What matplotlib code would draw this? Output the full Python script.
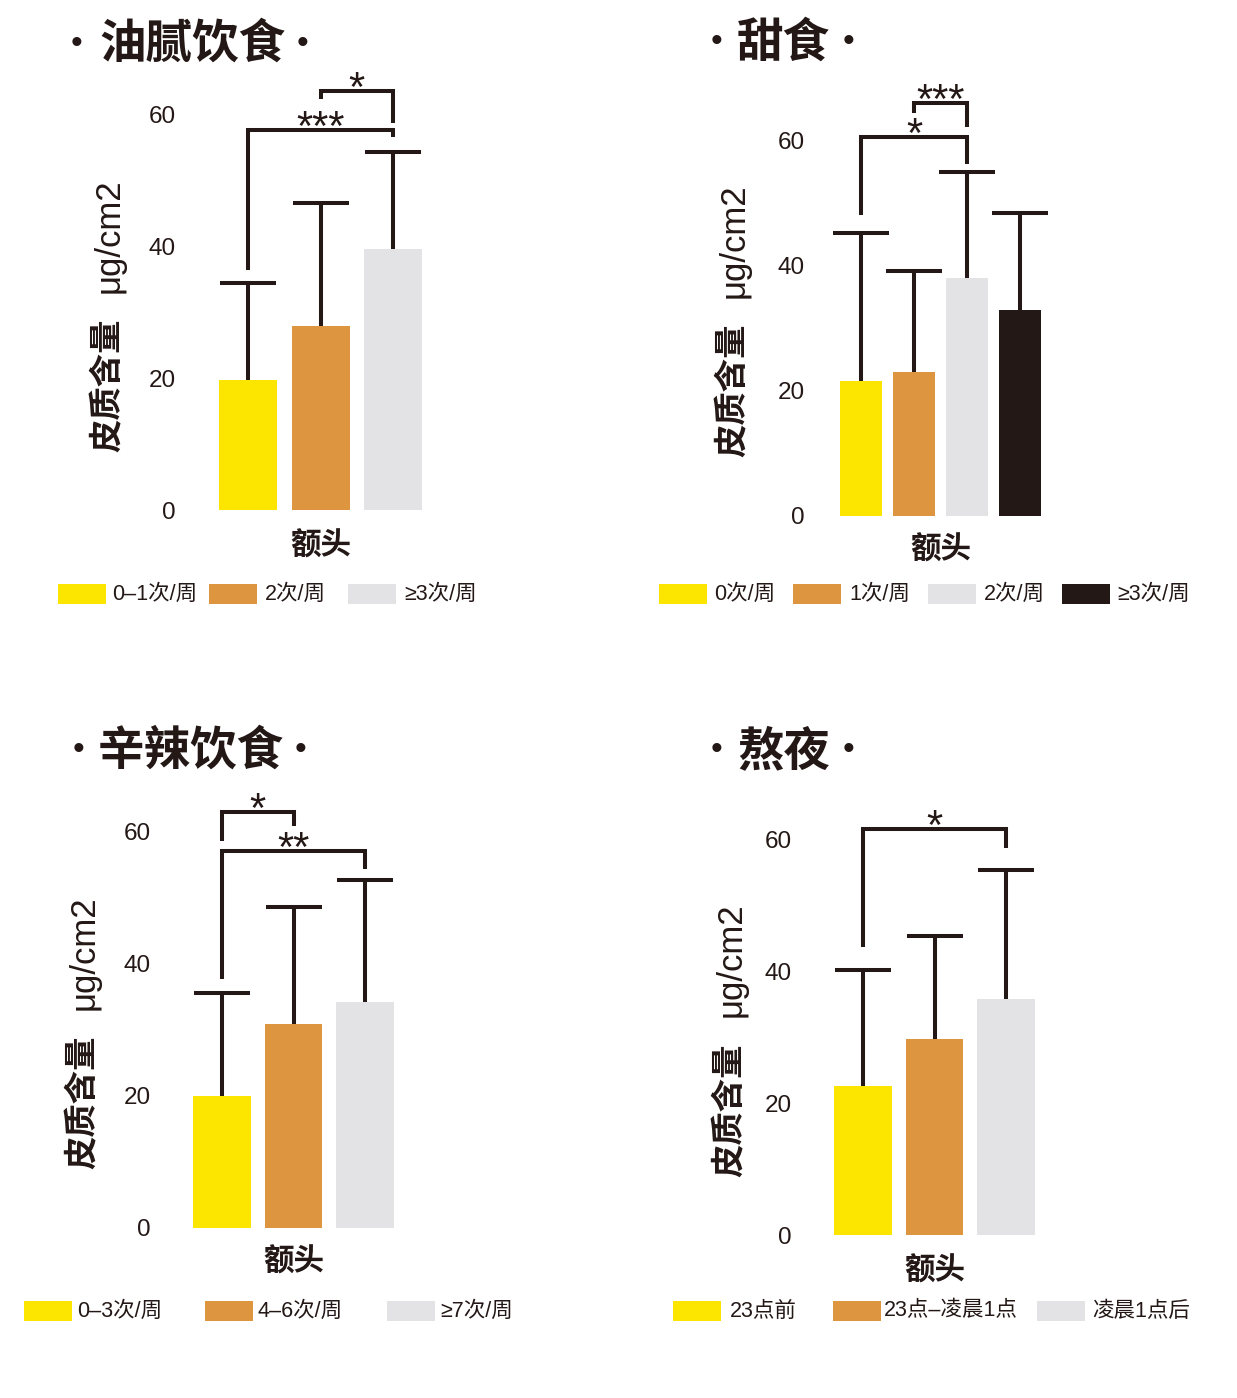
import matplotlib
matplotlib.use("Agg")
import numpy as np
import matplotlib.pyplot as plt
from matplotlib.patches import Rectangle
from matplotlib.transforms import Affine2D

plt.rcParams['font.family'] = ['Liberation Sans', 'Noto Sans CJK SC']

# ---------------- data ----------------
titles = ["油腻饮食", "甜食", "辛辣饮食", "熬夜"]
xlabel_text = "额头"
ylabel_cn = "皮质含量"
ylabel_unit = "μg/cm2"
y_ticks = [0, 20, 40, 60]

oily_labels = ["0–1次/周", "2次/周", "≥3次/周"]
oily_means = [19.7, 27.9, 39.5]
oily_sd = [14.7, 18.6, 14.7]
# (group a, group b, bracket height, left leg end, right leg end, mark)
oily_sig = [(0, 2, 57.6, 36.4, 56.5, "***"), (1, 2, 63.5, 62.3, 58.6, "*")]

sweet_labels = ["0次/周", "1次/周", "2次/周", "≥3次/周"]
sweet_means = [21.6, 23.0, 38.0, 32.9]
sweet_sd = [23.6, 16.1, 17.0, 15.5]
sweet_sig = [(0, 2, 60.5, 48.1, 56.2, "*"), (1, 2, 66.0, 64.4, 62.1, "***")]

spicy_labels = ["0–3次/周", "4–6次/周", "≥7次/周"]
spicy_means = [20.0, 30.8, 34.1]
spicy_sd = [15.5, 17.7, 18.5]
spicy_sig = [(0, 1, 62.9, 58.5, 60.8, "*"), (0, 2, 57.0, 37.6, 54.2, "**")]

night_labels = ["23点前", "23点–凌晨1点", "凌晨1点后"]
night_means = [22.6, 29.8, 35.9]
night_sd = [17.7, 15.6, 19.6]
night_sig = [(0, 2, 61.6, 43.8, 58.8, "*")]

colors = ["#FCE600", "#DD9540", "#E3E3E5", "#231816"]
ink = "#231815"

# ---------------- layout ----------------
W, H = 1237, 1398
fig = plt.figure(figsize=(W / 100, H / 100), dpi=100)
fig.patch.set_facecolor("white")
px = Affine2D().scale(1 / W, -1 / H).translate(0, 1) + fig.transFigure

panels = [
    dict(labels=oily_labels, means=oily_means, sd=oily_sd, sig=oily_sig, title=titles[0],
         c0=248, step=72.5, y0=510, y60=114,
         leg_x=[58, 209, 348], leg_dx=[54, 56, 56], leg_y=594,
         title_pos=(77, 99, 302, 44), ylab_x=108, ylab_cn_y=385, ylab_unit_y=236, xlab_y=546),
    dict(labels=sweet_labels, means=sweet_means, sd=sweet_sd, sig=sweet_sig, title=titles[1],
         c0=861, step=53, y0=516, y60=140.6,
         leg_x=[659, 793, 928, 1062], leg_dx=[55, 56, 56, 55], leg_y=594,
         title_pos=(717, 737, 849, 43), ylab_x=733, ylab_cn_y=390, ylab_unit_y=241, xlab_y=550),
    dict(labels=spicy_labels, means=spicy_means, sd=spicy_sd, sig=spicy_sig, title=titles[2],
         c0=222, step=71.5, y0=1228, y60=831,
         leg_x=[24, 205, 387], leg_dx=[53, 53, 53], leg_y=1311,
         title_pos=(78, 98, 301, 751), ylab_x=83, ylab_cn_y=1102, ylab_unit_y=953, xlab_y=1262),
    dict(labels=night_labels, means=night_means, sd=night_sd, sig=night_sig, title=titles[3],
         c0=863, step=71.5, y0=1235, y60=840,
         leg_x=[673, 833, 1037], leg_dx=[57, 51, 55], leg_y=1311,
         title_pos=(717, 737, 848, 751), ylab_x=730, ylab_cn_y=1110, ylab_unit_y=960, xlab_y=1271),
]

for p in panels:
    n = len(p["means"])
    left = p["c0"] - 0.8 * p["step"]
    right = p["c0"] + (n - 1 + 0.8) * p["step"]
    ax = fig.add_axes([left / W, 1 - p["y0"] / H, (right - left) / W, (p["y0"] - p["y60"]) / H])
    ax.set_xlim(-0.8, n - 1 + 0.8)
    ax.set_ylim(0, 60)
    ax.patch.set_alpha(0)
    for s in ax.spines.values():
        s.set_visible(False)
    xs = list(range(n))
    ax.bar(xs, p["means"], width=0.8, color=colors[:n], zorder=2)
    eb = ax.errorbar(xs, p["means"], yerr=[[0] * n, p["sd"]], fmt="none", ecolor=ink,
                     elinewidth=2.9, capsize=20, capthick=2.9, zorder=3, clip_on=False)
    # keep only the upper caps
    for cl in eb[1]:
        if np.allclose(np.asarray(cl.get_ydata(), float), p["means"]):
            cl.set_visible(False)
    ax.set_xticks([])
    ax.set_yticks(y_ticks)
    ax.set_yticklabels([str(t) for t in y_ticks], fontsize=17.5, color=ink)
    ax.tick_params(axis="y", length=0, pad=10)
    for a, b, yb, ya, yr, mark in p["sig"]:
        ax.plot([a, a, b, b], [ya, yb, yb, yr], color=ink, lw=2.9, clip_on=False,
                solid_capstyle="butt", solid_joinstyle="miter", zorder=4)
        ax.annotate(mark, xy=((a + b) / 2, yb), xytext=(0, -7), textcoords="offset points",
                    ha="center", va="baseline", fontsize=30, color=ink,
                    family="Liberation Sans", annotation_clip=False)
    # x label centred under the bars
    cx = (p["c0"] + p["c0"] + (n - 1) * p["step"]) / 2
    fig.text(cx, p["xlab_y"], xlabel_text, transform=px, ha="center", va="center",
             fontsize=22, fontweight="bold", color=ink, family="Noto Sans CJK SC")
    # y label
    fig.text(p["ylab_x"], p["ylab_cn_y"], ylabel_cn, transform=px, rotation=90,
             ha="center", va="center", fontsize=24, fontweight="bold", color=ink,
             family="Noto Sans CJK SC")
    fig.text(p["ylab_x"] + 1, p["ylab_unit_y"], ylabel_unit, transform=px, rotation=90,
             ha="center", va="center", fontsize=25, color=ink, family="Liberation Sans")
    # title
    d1, tl, d2, ty = p["title_pos"]
    fig.text(d1, ty, "•", transform=px, ha="center", va="center", fontsize=24,
             color=ink, family="Liberation Sans")
    fig.text(tl, ty, p["title"], transform=px, ha="left", va="center", fontsize=33.5,
             fontweight="heavy", color=ink, family="Noto Sans CJK SC")
    fig.text(d2, ty, "•", transform=px, ha="center", va="center", fontsize=24,
             color=ink, family="Liberation Sans")
    # legend
    for i, lab in enumerate(p["labels"]):
        lx = p["leg_x"][i]
        fig.add_artist(Rectangle((lx, p["leg_y"] - 10), 48, 20, transform=px,
                                 facecolor=colors[i], edgecolor="none"))
        fig.text(lx + p["leg_dx"][i], p["leg_y"], lab, transform=px, ha="left",
                 va="center", fontsize=15.5, color=ink)

fig.savefig("out.png", dpi=100, facecolor="white")
